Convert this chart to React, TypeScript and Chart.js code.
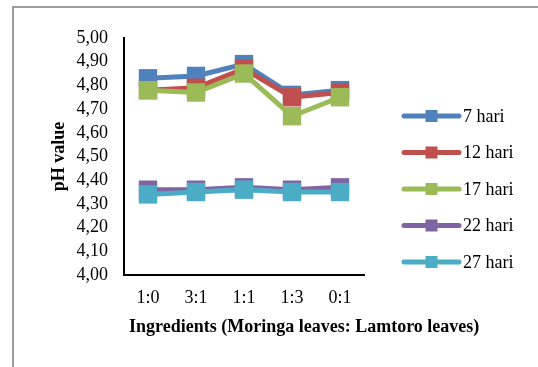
import React, { useEffect, useRef } from "react";
import { Chart, registerables } from "chart.js";

Chart.register(...registerables);

const categories = ["1:0", "3:1", "1:1", "1:3", "0:1"];
const seriesNames = ["7 hari", "12 hari", "17 hari", "22 hari", "27 hari"];
const hari7 = [4.83, 4.84, 4.89, 4.76, 4.78];
const hari12 = [4.78, 4.79, 4.87, 4.75, 4.77];
const hari17 = [4.78, 4.77, 4.85, 4.67, 4.75];
const hari22 = [4.36, 4.36, 4.37, 4.36, 4.37];
const hari27 = [4.34, 4.35, 4.36, 4.35, 4.35];
const seriesValues = [hari7, hari12, hari17, hari22, hari27];
const seriesColors = ["#4F81BD", "#C0504D", "#9BBB59", "#8064A2", "#4BACC6"];
const yMin = 4.0;
const yMax = 5.0;
const yStep = 0.1;
const xTitle = "Ingredients (Moringa leaves: Lamtoro leaves)";
const yTitle = "pH value";

const FONT = "'Liberation Serif', 'Times New Roman', serif";

const legendPlugin = {
  id: "excelLegend",
  afterDraw(chart: any) {
    const ctx = chart.ctx;
    const area = chart.chartArea;
    const x0 = area.right + 40;
    const lineLen = 55;
    const y0 = area.top + 78;
    const gap = 36.5;
    ctx.save();
    chart.data.datasets.forEach((ds: any, i: number) => {
      const y = y0 + i * gap;
      ctx.strokeStyle = ds.borderColor;
      ctx.lineWidth = 5;
      ctx.lineCap = "round";
      ctx.beginPath();
      ctx.moveTo(x0, y);
      ctx.lineTo(x0 + lineLen, y);
      ctx.stroke();
      ctx.fillStyle = ds.borderColor;
      ctx.fillRect(x0 + lineLen / 2 - 6, y - 6, 12, 12);
      ctx.fillStyle = "#000";
      ctx.font = `18px ${FONT}`;
      ctx.textBaseline = "middle";
      ctx.textAlign = "left";
      ctx.fillText(ds.label, x0 + lineLen + 4, y + 1);
    });
    // x-axis title
    ctx.font = `bold 18px ${FONT}`;
    ctx.textAlign = "left";
    ctx.textBaseline = "middle";
    ctx.fillStyle = "#000";
    ctx.fillText(xTitle, area.left + 5, area.bottom + 52);
    ctx.restore();
  },
};

export default function App() {
  const canvasRef = useRef<HTMLCanvasElement | null>(null);

  useEffect(() => {
    document.body.style.margin = "0";
    const canvas = canvasRef.current;
    if (!canvas) return;
    const n = seriesNames.length;
    const chart = new Chart(canvas, {
      type: "line",
      data: {
        labels: categories,
        datasets: seriesNames.map((name, i) => ({
          label: name,
          data: seriesValues[i],
          borderColor: seriesColors[i],
          backgroundColor: seriesColors[i],
          pointBackgroundColor: seriesColors[i],
          pointBorderColor: seriesColors[i],
          borderWidth: 5,
          pointStyle: "rect",
          pointRadius: 13,
          pointBorderWidth: 0,
          tension: 0,
          order: n - i,
        })),
      },
      options: {
        animation: false,
        responsive: false,
        maintainAspectRatio: false,
        layout: { padding: { left: 0, top: 38, right: 174, bottom: 0 } },
        plugins: {
          legend: { display: false },
          tooltip: { enabled: false },
        },
        scales: {
          x: {
            offset: true,
            grid: { display: false, drawTicks: false },
            border: { display: true, color: "#000", width: 2 },
            ticks: { color: "#000", font: { family: FONT, size: 18 }, padding: 12 },
            afterFit(scale: any) {
              scale.height = 92;
            },
          },
          y: {
            min: yMin,
            max: yMax,
            grid: { display: false, drawTicks: false },
            border: { display: true, color: "#000", width: 2 },
            ticks: {
              stepSize: yStep,
              autoSkip: false,
              color: "#000",
              padding: 16,
              font: { family: FONT, size: 18 },
              callback: (v: any) => Number(v).toFixed(2).replace(".", ","),
            },
            title: {
              display: true,
              text: yTitle,
              color: "#000",
              font: { family: FONT, size: 18, weight: "bold" },
              padding: { top: 49, bottom: 0 },
            },
            afterFit(scale: any) {
              scale.width = 124;
            },
          },
        },
      },
      plugins: [legendPlugin],
    });
    return () => chart.destroy();
  }, []);

  return (
    <div style={{ position: "relative", width: 538, height: 367, overflow: "hidden", background: "#fff" }}>
      <div
        style={{
          position: "absolute",
          left: 12,
          top: 6,
          width: 600,
          height: 500,
          border: "2px solid #9c9c9c",
          boxSizing: "border-box",
        }}
      />
      <canvas ref={canvasRef} width={538} height={367} style={{ position: "absolute", left: 0, top: 0, display: "block" }} />
    </div>
  );
}
